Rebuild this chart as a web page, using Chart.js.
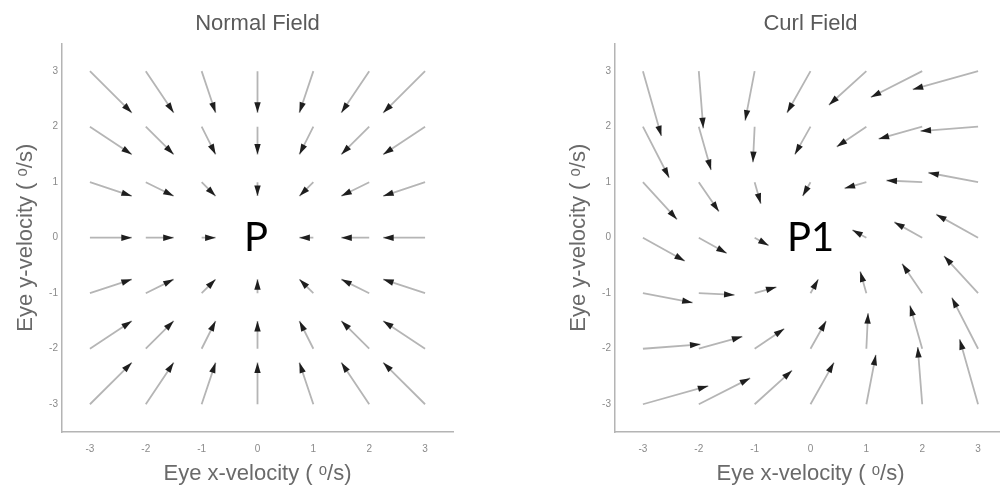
<!DOCTYPE html>
<html>
<head>
<meta charset="utf-8">
<script src="https://cdn.jsdelivr.net/npm/chart.js@4.4.0/dist/chart.umd.min.js"></script>
<style>
    html, body { margin: 0; padding: 0; background: #fff; overflow: hidden; }
    body { width: 1000px; height: 491px; position: relative; }
    .panel { position: absolute; top: 0; width: 500px; height: 491px; }
    .mark { position: absolute; font-family: Lato, "Open Sans", sans-serif; font-size: 40px; line-height: 40px; color: #000; }
</style>
</head>
<body>
<div class="panel" style="left: 0"><canvas id="chart-normal" width="500" height="491"></canvas></div>
<div class="panel" style="left: 553px"><canvas id="chart-curl" width="500" height="491"></canvas></div>
<div class="mark" style="left: 244px; top: 216px">P</div>
<div class="mark" style="left: 787px; top: 216px">P1</div>
<script>
// arrow tails sit on this grid; rows of the head tables follow gridY, columns follow gridX
const gridX = [-3, -2, -1, 0, 1, 2, 3];
const gridY = [3, 2, 1, 0, -1, -2, -3];
const tickValues = [-3, -2, -1, 0, 1, 2, 3];

const titles = ['Normal Field', 'Curl Field'];
const xLabel = 'Eye x-velocity ( \u1D52/s)';
const yLabel = 'Eye y-velocity ( \u1D52/s)';

// arrow tips (null = no arrow at the origin)
const normalHeadX = [
    [-2.25, -1.5, -0.75, 0, 0.75, 1.5, 2.25],
    [-2.25, -1.5, -0.75, 0, 0.75, 1.5, 2.25],
    [-2.25, -1.5, -0.75, 0, 0.75, 1.5, 2.25],
    [-2.25, -1.5, -0.75, null, 0.75, 1.5, 2.25],
    [-2.25, -1.5, -0.75, 0, 0.75, 1.5, 2.25],
    [-2.25, -1.5, -0.75, 0, 0.75, 1.5, 2.25],
    [-2.25, -1.5, -0.75, 0, 0.75, 1.5, 2.25]
];
const normalHeadY = [
    [2.25, 2.25, 2.25, 2.25, 2.25, 2.25, 2.25],
    [1.5, 1.5, 1.5, 1.5, 1.5, 1.5, 1.5],
    [0.75, 0.75, 0.75, 0.75, 0.75, 0.75, 0.75],
    [0, 0, 0, null, 0, 0, 0],
    [-0.75, -0.75, -0.75, -0.75, -0.75, -0.75, -0.75],
    [-1.5, -1.5, -1.5, -1.5, -1.5, -1.5, -1.5],
    [-2.25, -2.25, -2.25, -2.25, -2.25, -2.25, -2.25]
];

const curlHeadX = [
    [-2.67, -1.92, -1.17, -0.42, 0.33, 1.08, 1.83],
    [-2.53, -1.78, -1.03, -0.28, 0.47, 1.22, 1.97],
    [-2.39, -1.64, -0.89, -0.14, 0.61, 1.36, 2.11],
    [-2.25, -1.5, -0.75, null, 0.75, 1.5, 2.25],
    [-2.11, -1.36, -0.61, 0.14, 0.89, 1.64, 2.39],
    [-1.97, -1.22, -0.47, 0.28, 1.03, 1.78, 2.53],
    [-1.83, -1.08, -0.33, 0.42, 1.17, 1.92, 2.67]
];
const curlHeadY = [
    [1.83, 1.97, 2.11, 2.25, 2.39, 2.53, 2.67],
    [1.08, 1.22, 1.36, 1.5, 1.64, 1.78, 1.92],
    [0.33, 0.47, 0.61, 0.75, 0.89, 1.03, 1.17],
    [-0.42, -0.28, -0.14, null, 0.14, 0.28, 0.42],
    [-1.17, -1.03, -0.89, -0.75, -0.61, -0.47, -0.33],
    [-1.92, -1.78, -1.64, -1.5, -1.36, -1.22, -1.08],
    [-2.67, -2.53, -2.39, -2.25, -2.11, -1.97, -1.83]
];

// tail, tip, gap for every arrow so the line breaks between arrows
function shaftPoints(headX, headY) {
    const points = [];
    gridY.forEach((y, r) => {
        gridX.forEach((x, c) => {
            if (headX[r][c] === null) {
                return;
            }
            points.push({x: x, y: y});
            points.push({x: headX[r][c], y: headY[r][c]});
            points.push({x: headX[r][c], y: null});
        });
    });
    return points;
}

// filled heads at the tip of each shaft, using the point elements' pixels
const arrowHeads = {
    id: 'arrowHeads',
    afterDatasetsDraw(chart) {
        const ctx = chart.ctx;
        const pts = chart.getDatasetMeta(0).data;
        const len = 10.5;
        const half = 3.2;
        ctx.save();
        ctx.fillStyle = '#1e1e1e';
        for (let i = 0; i + 1 < pts.length; i += 3) {
            const tail = pts[i];
            const tip = pts[i + 1];
            const ang = Math.atan2(tip.y - tail.y, tip.x - tail.x);
            const cos = Math.cos(ang);
            const sin = Math.sin(ang);
            const bx = tip.x - len * cos;
            const by = tip.y - len * sin;
            ctx.beginPath();
            ctx.moveTo(tip.x, tip.y);
            ctx.lineTo(bx - half * sin, by + half * cos);
            ctx.lineTo(bx + half * sin, by - half * cos);
            ctx.closePath();
            ctx.fill();
        }
        ctx.restore();
    }
};

function axis(label, isX) {
    return {
        type: 'linear',
        min: -3.5,
        max: 3.5,
        afterBuildTicks: scale => {
            scale.ticks = tickValues.map(v => ({value: v}));
        },
        afterFit: scale => {
            if (isX) {
                scale.height = 59;
            } else {
                scale.width = 62;
            }
        },
        grid: {display: false, drawTicks: false},
        border: {display: true, color: '#b4b4b4', width: 1.5},
        ticks: {
            color: '#8a8a8a',
            font: {family: '"Liberation Sans", Arial, sans-serif', size: 10},
            padding: isX ? 11 : 4
        },
        title: {
            display: true,
            text: label,
            color: '#6a6a6a',
            font: {family: '"Liberation Sans", Arial, sans-serif', size: 22},
            padding: isX ? {top: 0, bottom: 4} : {top: 13, bottom: 0}
        }
    };
}

function makeChart(canvasId, title, headX, headY) {
    const ctx = document.getElementById(canvasId).getContext('2d');
    return new Chart(ctx, {
        type: 'scatter',
        data: {
            datasets: [{
                data: shaftPoints(headX, headY),
                showLine: true,
                spanGaps: false,
                borderColor: 'rgba(150, 150, 150, 0.7)',
                borderWidth: 1.8,
                pointRadius: 0,
                pointHoverRadius: 0
            }]
        },
        options: {
            responsive: false,
            animation: false,
            events: [],
            layout: {padding: {left: 0, right: 47, top: 0, bottom: 0}},
            plugins: {
                legend: {display: false},
                tooltip: {enabled: false},
                title: {
                    display: true,
                    text: title,
                    fullSize: false,
                    color: '#5a5a5a',
                    font: {family: '"Liberation Sans", Arial, sans-serif', size: 22, weight: 'normal'},
                    padding: {top: 11, bottom: 6}
                }
            },
            scales: {
                x: axis(xLabel, true),
                y: axis(yLabel, false)
            }
        },
        plugins: [arrowHeads]
    });
}

makeChart('chart-normal', titles[0], normalHeadX, normalHeadY);
makeChart('chart-curl', titles[1], curlHeadX, curlHeadY);
</script>
</body>
</html>
